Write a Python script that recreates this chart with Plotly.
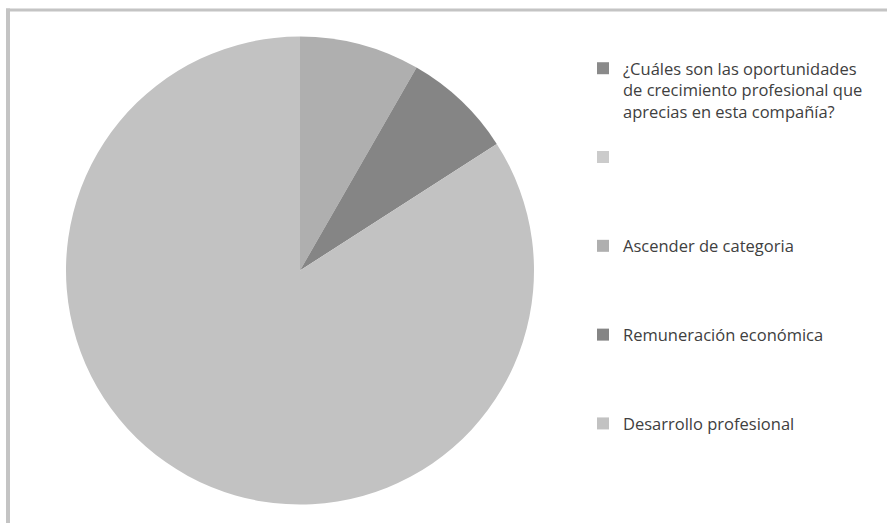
import plotly.graph_objects as go

W, H = 887, 523

# Categories (the first two entries carry no value and only appear in the legend)
labels = [
    "¿Cuáles son las oportunidades<br>de crecimiento profesional que<br>aprecias en esta compañía?",
    " ",
    "Ascender de categoria",
    "Remuneración económica",
    "Desarrollo profesional",
]
values = [0, 0, 8.3, 7.6, 84.1]
colors = ["#8a8a8a", "#cbcbcb", "#afafaf", "#858585", "#c2c2c2"]

# pie placement in pixels
cx, cy, r = 300, 270.5, 234


def px_x(x):
    return x / W


def px_y(y):
    return 1 - y / H


# pad every legend entry to the same height so the entries are evenly spaced
legend_labels = []
for lab in labels:
    n = lab.count("<br>") + 1
    legend_labels.append(lab + "<br> " * (4 - n))

fig = go.Figure(
    go.Pie(
        labels=legend_labels,
        values=values,
        sort=False,
        direction="clockwise",
        rotation=0,
        textinfo="none",
        hoverinfo="none",
        marker=dict(colors=colors, line=dict(width=0)),
        domain=dict(x=[px_x(cx - r), px_x(cx + r)], y=[px_y(cy + r), px_y(cy - r)]),
        showlegend=True,
    )
)

fig.update_layout(
    width=W,
    height=H,
    margin=dict(l=0, r=0, t=0, b=0),
    paper_bgcolor="white",
    plot_bgcolor="white",
    font=dict(family="Open Sans", size=16.5, color="#404040"),
    legend=dict(
        x=px_x(583),
        y=px_y(51),
        xanchor="left",
        yanchor="top",
        valign="top",
        itemwidth=30,
        traceorder="normal",
        font=dict(family="Open Sans", size=16.5, color="#404040"),
        bgcolor="rgba(0,0,0,0)",
    ),
    shapes=[
        # frame edges along the top and left
        dict(type="rect", xref="paper", yref="paper",
             x0=px_x(6), x1=1, y0=px_y(11.5), y1=px_y(8.5),
             fillcolor="#c4c4c4", line=dict(width=0), layer="below"),
        dict(type="rect", xref="paper", yref="paper",
             x0=px_x(6), x1=px_x(10), y0=0, y1=px_y(8.5),
             fillcolor="#c4c4c4", line=dict(width=0), layer="below"),
    ],
)

fig.write_html("out.html")
